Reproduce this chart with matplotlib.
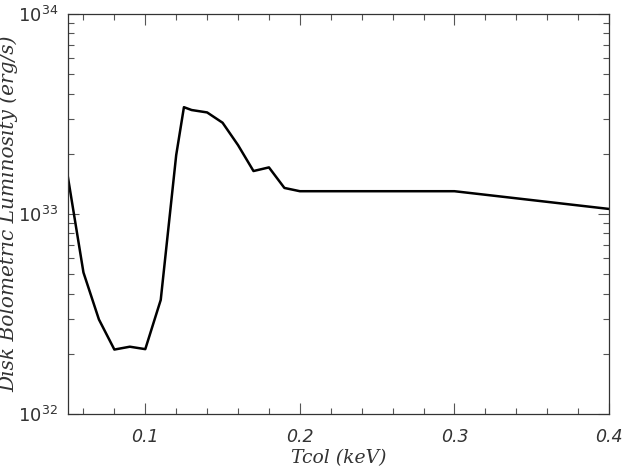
import matplotlib

matplotlib.use("Agg")
import matplotlib.pyplot as plt  # noqa: E402
from matplotlib.ticker import MultipleLocator, LogLocator, NullFormatter  # noqa: E402

# Disk luminosity vs colour temperature
tcol_kev = [0.05, 0.06, 0.07, 0.08, 0.09, 0.10, 0.11, 0.12, 0.125, 0.13,
            0.14, 0.15, 0.16, 0.17, 0.18, 0.19, 0.20, 0.30, 0.40]
lum_erg_s = [1.52e33, 5.1e32, 2.97e32, 2.1e32, 2.17e32, 2.11e32, 3.72e32,
             1.97e33, 3.42e33, 3.31e33, 3.22e33, 2.86e33, 2.21e33, 1.64e33,
             1.71e33, 1.35e33, 1.30e33, 1.30e33, 1.06e33]

x_ticks = [0.1, 0.2, 0.3, 0.4]
x_ticklabels = ["0.1", "0.2", "0.3", "0.4"]
y_ticks = [1e32, 1e33, 1e34]
y_ticklabels = [r"$\mathit{10}^{\mathit{32}}$", r"$\mathit{10}^{\mathit{33}}$",
                r"$\mathit{10}^{\mathit{34}}$"]

plt.rcParams["mathtext.fontset"] = "custom"
plt.rcParams["mathtext.it"] = "DejaVu Sans:italic"
plt.rcParams["mathtext.rm"] = "DejaVu Sans"

fig = plt.figure(figsize=(6.24, 4.67), dpi=100)
ax = fig.add_axes([68 / 624, 1 - 414 / 467, 541 / 624, 400 / 467])

ax.plot(tcol_kev, lum_erg_s, color="black", lw=1.8)
ax.set_yscale("log")
ax.set_xlim(0.05, 0.4)
ax.set_ylim(1e32, 1e34)

ax.set_xticks(x_ticks)
ax.set_xticklabels(x_ticklabels, fontstyle="italic", fontsize=12.5)
ax.xaxis.set_minor_locator(MultipleLocator(0.02))
ax.set_yticks(y_ticks)
ax.set_yticklabels(y_ticklabels, fontsize=13)
ax.yaxis.set_minor_locator(LogLocator(base=10, subs=range(2, 10)))
ax.yaxis.set_minor_formatter(NullFormatter())

ax.tick_params(which="both", direction="in", top=True, right=True,
               color="#555555", labelcolor="#333333")
ax.tick_params(which="major", length=8, width=0.8)
ax.tick_params(axis="x", which="major", pad=10)
ax.tick_params(axis="y", which="major", pad=7)
ax.tick_params(which="minor", length=4, width=0.8)
for s in ax.spines.values():
    s.set_color("#333333")
    s.set_linewidth(0.9)

ax.set_xlabel("Tcol (keV)", family="DejaVu Serif", fontstyle="italic",
              fontsize=13.5, color="#333333")
ax.xaxis.set_label_coords(0.5, -0.088)
ax.set_ylabel("Disk Bolometric Luminosity (erg/s)", family="DejaVu Serif",
              fontstyle="italic", fontsize=14.5, color="#333333")
ax.yaxis.set_label_coords(-0.092, 0.5)

fig.savefig("out.png", dpi=100)
